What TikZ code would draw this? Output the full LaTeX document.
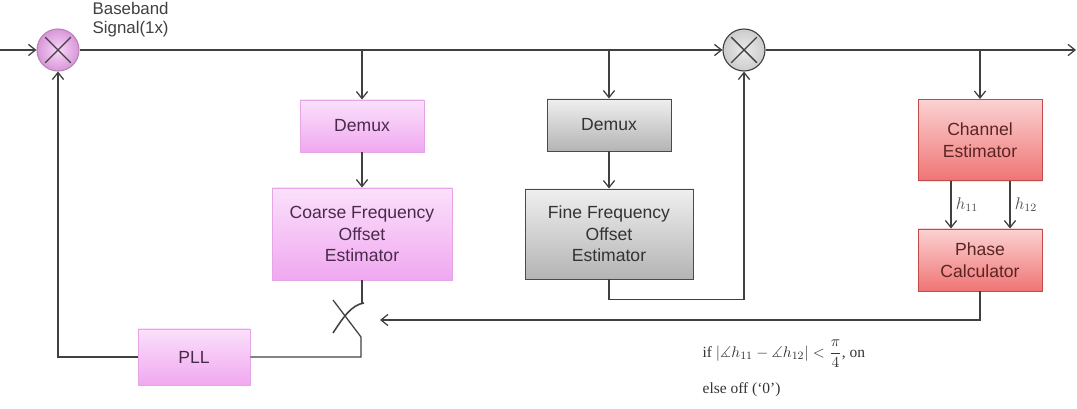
\documentclass[tikz,border=0pt]{standalone}
\usepackage{amsmath,amssymb}
\usepackage[no-math]{fontspec}
\setmainfont{Liberation Sans}
\newfontfamily\condfont[Ligatures=TeX]{Liberation Serif}
\usetikzlibrary{arrows.meta,positioning,calc,shadows}

\definecolor{linecol}{HTML}{404040}
\definecolor{pinktop}{HTML}{FBE0FB}
\definecolor{pinkbot}{HTML}{F0A8F0}
\definecolor{pinkedge}{HTML}{E6A6E6}
\definecolor{pinktext}{HTML}{4A2A4A}
\definecolor{graytop}{HTML}{EFEFEF}
\definecolor{graybot}{HTML}{B4B4B4}
\definecolor{grayedge}{HTML}{4A4A4A}
\definecolor{redtop}{HTML}{FBD2D2}
\definecolor{redbot}{HTML}{F07474}
\definecolor{rededge}{HTML}{C44A4A}
\definecolor{redtext}{HTML}{5A2424}

\begin{document}
\begin{tikzpicture}[
    line width=0.9pt,
    box/.style={minimum width=3.1cm, minimum height=1.3cm, align=center, font=\fontsize{12.5}{15.4}\selectfont, line width=0.7pt, drop shadow={opacity=0.15, shadow xshift=0.8pt, shadow yshift=-0.8pt}},
    pinkbox/.style={box, draw=pinkedge, top color=pinktop, bottom color=pinkbot, text=pinktext},
    graybox/.style={box, draw=grayedge, top color=graytop, bottom color=graybot, text=black!80},
    redbox/.style={box, draw=rededge, top color=redtop, bottom color=redbot, text=redtext},
    mixer/.style={circle, minimum size=1.05cm, inner sep=0pt, line width=0.8pt,
        path picture={\draw[line width=1pt, linecol]
            ([shift={(-0.32,-0.32)}]path picture bounding box.center) -- ([shift={(0.32,0.32)}]path picture bounding box.center)
            ([shift={(-0.32,0.32)}]path picture bounding box.center) -- ([shift={(0.32,-0.32)}]path picture bounding box.center);}},
    arr/.style={-{Straight Barb[length=5pt, width=8pt]}, draw=linecol},
    wire/.style={draw=linecol},
    hlbl/.style={font=\large, text=black!70, inner sep=3pt},
    cond/.style={font=\condfont\fontsize{11}{13}\selectfont, text=black!80, inner sep=0pt}
]
\useasboundingbox (0,0) rectangle (26.925,-10.225);

\node[mixer, draw=pinkedge!80!black, inner color=pinktop!80!pinkbot, outer color=pinkbot!90!black] (mix1) at (1.45,-1.25) {};
\node[mixer, draw=linecol, inner color=black!8, outer color=black!20] (mix2) at (18.6,-1.25) {};
\node[anchor=north west, align=left, inner sep=0pt, text=black!75, font=\fontsize{12}{13.5}\selectfont] (bb) at (2.3,-0.04) {Baseband\\Signal(1x)};

\node[pinkbox] (cdemux) at (9.05,-3.15) {Demux};
\node[pinkbox, minimum width=4.5cm, minimum height=2.3cm] (coarse) at (9.05,-5.85) {Coarse Frequency\\Offset\\Estimator};
\node[graybox] (fdemux) at (15.225,-3.125) {Demux};
\node[graybox, minimum width=4.2cm, minimum height=2.25cm] (fine) at (15.225,-5.85) {Fine Frequency\\Offset\\Estimator};
\node[redbox, minimum height=2.025cm] (chest) at (24.5,-3.5) {Channel\\Estimator};
\node[redbox, minimum height=1.55cm] (phase) at (24.5,-6.5) {Phase\\Calculator};
\node[pinkbox, minimum width=2.8cm, minimum height=1.4cm] (pll) at (4.85,-8.925) {PLL};

\node[cond, anchor=west] (cond1) at (17.55,-8.85) {if $|\measuredangle h_{11}-\measuredangle h_{12}|<\dfrac{\pi}{4}$, on};
\node[cond, anchor=west] (cond2) at (17.55,-9.75) {else off (`0')};

\coordinate (in) at (0,-1.25);
\coordinate (out) at (26.9,-1.25);
\coordinate (swtip) at (9.1,-7.575);
\coordinate (swfoot) at (8.325,-8.325);
\coordinate (swlow) at (9.025,-8.425);
\coordinate (swend) at (8.325,-7.5);
\coordinate (swin) at (9.5,-8.0);

\draw[arr] (in) -- (mix1);
\draw[arr] (mix1) -- (mix2);
\draw[arr] (mix2) -- (out);
\draw[arr] (cdemux |- mix1) -- (cdemux);
\draw[arr] (fdemux |- mix1) -- (fdemux);
\draw[arr] (chest |- mix1) -- (chest);
\draw[arr] (cdemux) -- (coarse);
\draw[arr] (fdemux) -- (fine);
\draw[arr] ([xshift=-0.725cm]chest.south) -- node[hlbl, right] {$h_{11}$} ([xshift=-0.725cm]phase.north);
\draw[arr] ([xshift=0.75cm]chest.south) -- node[hlbl, right] {$h_{12}$} ([xshift=0.75cm]phase.north);
\draw[arr] (fine.south) -- ++(0,-0.5) -| (mix2.south);
\draw[arr] (phase.south) |- (swin);
\draw[arr] (pll.west) -| (mix1.south);
\draw[wire] (coarse.south) -- (coarse.south |- swtip);
\draw[wire] (pll.east) -| (swlow) -- (swend);
\draw[wire, line width=1.1pt] (swfoot) .. controls (8.6,-7.9) and (8.8,-7.62) .. (swtip);
\end{tikzpicture}
\end{document}
